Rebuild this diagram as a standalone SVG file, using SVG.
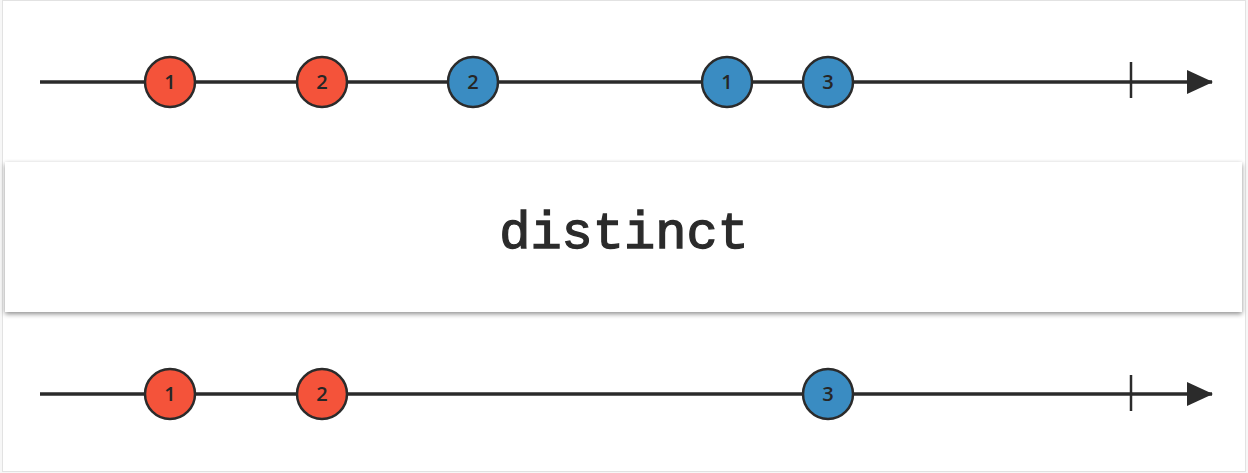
<svg xmlns="http://www.w3.org/2000/svg" width="1248" height="473" viewBox="0 0 1248 473">
<defs>
<filter id="sh" x="-5%" y="-20%" width="110%" height="150%">
<feGaussianBlur in="SourceAlpha" stdDeviation="2.5"/>
<feOffset dx="0" dy="2"/>
<feComponentTransfer><feFuncA type="linear" slope="0.45"/></feComponentTransfer>
<feMerge><feMergeNode/><feMergeNode in="SourceGraphic"/></feMerge>
</filter>
<marker id="arr" markerWidth="26" markerHeight="24" refX="25" refY="12" markerUnits="userSpaceOnUse" orient="auto">
<path d="M0,0 L26,12 L0,24 Z" fill="#2b2b2b"/>
</marker>
</defs>
<style>
.tl{stroke:#2b2b2b;stroke-width:3.5;fill:none}
.tick{stroke:#2b2b2b;stroke-width:2.5}
.red{fill:#f4533a;stroke:#2b2b2b;stroke-width:2.5}
.blue{fill:#3a8cc2;stroke:#2b2b2b;stroke-width:2.5}
.lbl{font-family:"Open Sans","Liberation Sans",sans-serif;font-size:20px;font-weight:600;fill:#262626;text-anchor:middle}
.op{font-family:"Liberation Mono","Courier New",monospace;font-size:52px;font-weight:normal;fill:#2b2b2b;stroke:#2b2b2b;stroke-width:1.3;text-anchor:middle}
</style>
<rect x="0" y="0" width="1248" height="473" fill="#f7f7f7"/>
<rect x="2.5" y="0.5" width="1243" height="471" fill="#ffffff" stroke="#e2e2e2" stroke-width="1"/>
<g id="connectors">
<line class="tl" x1="40" y1="82" x2="1212" y2="82" marker-end="url(#arr)"/>
<line class="tick" x1="1131" y1="62" x2="1131" y2="98"/>
<line class="tl" x1="40" y1="394" x2="1212" y2="394" marker-end="url(#arr)"/>
<line class="tick" x1="1131" y1="375" x2="1131" y2="411"/>
</g>
<g id="operator">
<rect x="5" y="162" width="1237" height="150" fill="#ffffff" filter="url(#sh)"/>
<text class="op" x="624" y="248">distinct</text>
</g>
<g id="in1"><circle class="red" cx="170" cy="82" r="25"/><text class="lbl" x="170" y="89">1</text></g>
<g id="in2"><circle class="red" cx="322" cy="82" r="25"/><text class="lbl" x="322" y="89">2</text></g>
<g id="in3"><circle class="blue" cx="473" cy="82" r="25"/><text class="lbl" x="473" y="89">2</text></g>
<g id="in4"><circle class="blue" cx="727" cy="82" r="25"/><text class="lbl" x="727" y="89">1</text></g>
<g id="in5"><circle class="blue" cx="828" cy="82" r="25"/><text class="lbl" x="828" y="89">3</text></g>
<g id="out1"><circle class="red" cx="170" cy="394" r="25"/><text class="lbl" x="170" y="401">1</text></g>
<g id="out2"><circle class="red" cx="322" cy="394" r="25"/><text class="lbl" x="322" y="401">2</text></g>
<g id="out3"><circle class="blue" cx="828" cy="394" r="25"/><text class="lbl" x="828" y="401">3</text></g>
</svg>
